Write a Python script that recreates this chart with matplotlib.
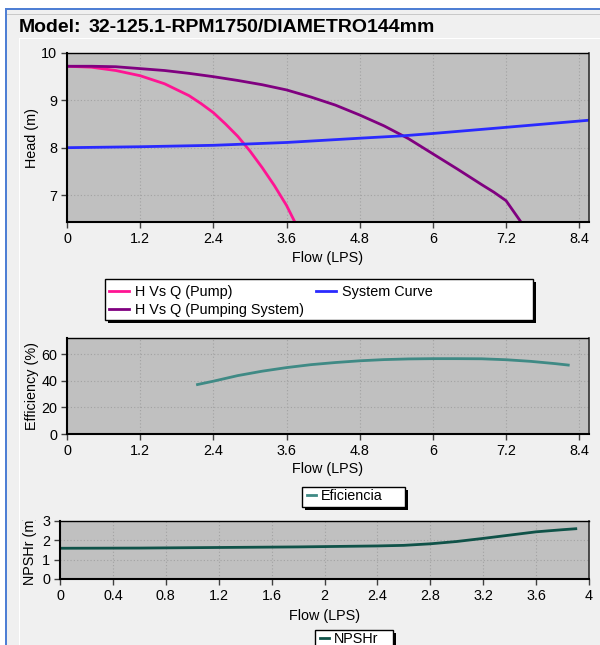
import matplotlib
matplotlib.use("Agg")
import matplotlib.pyplot as plt
from matplotlib.patches import Rectangle
from matplotlib.transforms import Bbox

# ---------------- data ----------------
title_label = "Model:"
title_model = "32-125.1-RPM1750/DIAMETRO144mm"

flow_pump = [0, 0.4, 0.8, 1.2, 1.6, 2.0, 2.2, 2.4, 2.6, 2.8, 3.0, 3.2, 3.4, 3.6, 3.74]
head_pump = [9.72, 9.70, 9.63, 9.52, 9.35, 9.10, 8.93, 8.74, 8.50, 8.24, 7.93, 7.58,
             7.20, 6.78, 6.42]

flow_system = [0, 0.4, 0.8, 1.2, 1.6, 2.0, 2.4, 2.8, 3.2, 3.6, 4.0, 4.4, 4.8, 5.2,
               5.6, 6.0, 6.4, 6.8, 7.0, 7.2, 7.45]
head_system = [9.72, 9.72, 9.71, 9.67, 9.63, 9.57, 9.50, 9.42, 9.33, 9.22, 9.07, 8.90,
               8.69, 8.46, 8.19, 7.87, 7.55, 7.22, 7.06, 6.88, 6.42]

flow_curve = [0, 1.2, 2.4, 3.6, 4.8, 5.5, 6.0, 7.2, 8.56]
head_curve = [8.0, 8.02, 8.05, 8.11, 8.2, 8.25, 8.30, 8.43, 8.58]

flow_eff = [2.14, 2.4, 2.8, 3.2, 3.6, 4.0, 4.4, 4.8, 5.2, 5.6, 6.0, 6.4, 6.8, 7.2,
            7.6, 8.0, 8.22]
eff = [37.1, 39.6, 43.8, 47.1, 49.8, 52.0, 53.6, 54.9, 55.8, 56.3, 56.5, 56.5, 56.4,
       55.7, 54.5, 52.8, 51.7]

flow_npsh = [0, 0.6, 1.2, 1.8, 2.4, 2.6, 2.8, 3.0, 3.2, 3.4, 3.6, 3.8, 3.9]
npsh = [1.59, 1.6, 1.63, 1.66, 1.71, 1.74, 1.82, 1.94, 2.1, 2.27, 2.44, 2.55, 2.6]

head_xticks = [0, 1.2, 2.4, 3.6, 4.8, 6, 7.2, 8.4]
head_yticks = [7, 8, 9, 10]
eff_yticks = [0, 20, 40, 60]
npsh_xticks = [0, 0.4, 0.8, 1.2, 1.6, 2, 2.4, 2.8, 3.2, 3.6, 4]
npsh_yticks = [0, 1, 2, 3]

lbl_pump = "H Vs Q (Pump)"
lbl_system = "H Vs Q (Pumping System)"
lbl_curve = "System Curve"
lbl_eff = "Eficiencia"
lbl_npsh = "NPSHr"

# ---------------- style ----------------
W, H = 600, 645
FONT = "Liberation Sans"
FS = 10.4
plt.rcParams["font.family"] = [FONT, "DejaVu Sans"]
plt.rcParams["font.size"] = FS

C_PUMP = "#ff1493"
C_SYS = "#800080"
C_CURVE = "#2a2aff"
C_EFF = "#3f8a85"
C_NPSH = "#0f5248"
BG = "#c0c0c0"
LW = 2.0

fig = plt.figure(figsize=(W / 100, H / 100), dpi=100, facecolor="#f0f0f0")


def fx(px):
    return px / W


def fy(py):
    return 1 - py / H


def rect_px(x0, y0, x1, y1, **kw):
    r = Rectangle((fx(x0), fy(y1)), fx(x1) - fx(x0), fy(y0) - fy(y1),
                  transform=fig.transFigure, **kw)
    fig.add_artist(r)
    return r


# window decoration
rect_px(0, 0, W, 8, facecolor="white", edgecolor="none", zorder=0)
rect_px(0, 0, 5, H, facecolor="white", edgecolor="none", zorder=0)
rect_px(5, 8, W, 10, facecolor="#4f7fd4", edgecolor="none", zorder=1)
rect_px(5, 8, 7, H, facecolor="#4f7fd4", edgecolor="none", zorder=1)
rect_px(7, 14, W, 15, facecolor="#c9c9c9", edgecolor="none", zorder=1)
rect_px(19, 38, W, 39, facecolor="white", edgecolor="none", zorder=1)
rect_px(19, 38, 20, H, facecolor="white", edgecolor="none", zorder=1)

fig.text(fx(19), fy(27), title_label, fontsize=14, fontweight="bold", va="center", ha="left")
fig.text(fx(89), fy(27), title_model, fontsize=14, fontweight="bold", va="center", ha="left")


def make_axes(px_left, px_top, px_right, px_bottom):
    ax = fig.add_axes([fx(px_left), fy(px_bottom), fx(px_right) - fx(px_left),
                       fy(px_top) - fy(px_bottom)])
    ax.set_facecolor(BG)
    ax.grid(True, color="#a2a2a2", linestyle=(0, (1, 2)), linewidth=0.8)
    ax.set_axisbelow(True)
    for s in ("left", "bottom"):
        ax.spines[s].set_color("black")
        ax.spines[s].set_linewidth(1.5)
    ax.spines["right"].set_color("#303030")
    ax.spines["right"].set_linewidth(1.2)
    ax.spines["top"].set_color("black")
    ax.spines["top"].set_linestyle((0, (1, 1)))
    ax.spines["top"].set_linewidth(1.0)
    ax.tick_params(direction="out", length=4, width=1, color="#404040",
                   labelsize=FS, pad=3)
    return ax


def legend_box(x0, y0, x1, y1):
    rect_px(x0 + 3, y0 + 3, x1 + 3, y1 + 3, facecolor="black", edgecolor="none", zorder=5)
    rect_px(x0, y0, x1, y1, facecolor="white", edgecolor="black", linewidth=1.0, zorder=6)


# ---------------- Head chart ----------------
ax1 = make_axes(67, 53, 589, 222)
l_pump, = ax1.plot(flow_pump, head_pump, color=C_PUMP, lw=LW)
l_sys, = ax1.plot(flow_system, head_system, color=C_SYS, lw=LW)
l_curve, = ax1.plot(flow_curve, head_curve, color=C_CURVE, lw=LW)
ax1.set_xlim(0, 8.56)
ax1.set_ylim(6.43, 10)
ax1.set_xticks(head_xticks)
ax1.set_xticklabels([f"{t:g}" for t in head_xticks])
ax1.set_yticks(head_yticks)
ax1.set_xlabel("Flow (LPS)", fontsize=FS)
ax1.set_ylabel("Head (m)", fontsize=FS)
ax1.xaxis.set_label_coords(0.5, -(251 - 222) / 169)
ax1.xaxis.label.set_va("top")
ax1.yaxis.set_label_coords((32 - 67) / 522, 0.5)
ax1.yaxis.label.set_va("center")

legend_box(105, 279, 533, 320)
leg1 = fig.legend([l_pump, l_sys, l_curve], [lbl_pump, lbl_system, lbl_curve],
                  ncol=2, loc="upper left", bbox_to_anchor=(fx(106), fy(282)),
                  frameon=False, fontsize=FS, handlelength=1.4, handletextpad=0.4,
                  columnspacing=0.85, labelspacing=0.3, borderpad=0.2,
                  borderaxespad=0)
leg1.set_zorder(7)

# ---------------- Efficiency chart ----------------
ax2 = make_axes(67, 338, 589, 434)
l_eff, = ax2.plot(flow_eff, eff, color=C_EFF, lw=LW)
ax2.set_xlim(0, 8.56)
ax2.set_ylim(0, 72)
ax2.set_xticks(head_xticks)
ax2.set_xticklabels([f"{t:g}" for t in head_xticks])
ax2.set_yticks(eff_yticks)
ax2.set_xlabel("Flow (LPS)", fontsize=FS)
ax2.set_ylabel("Efficiency (%)", fontsize=FS)
ax2.xaxis.set_label_coords(0.5, -(462 - 434) / 96)
ax2.xaxis.label.set_va("top")
ax2.yaxis.set_label_coords((32 - 67) / 522, 0.5)
ax2.yaxis.label.set_va("center")

legend_box(302, 487, 405, 507)
leg2 = fig.legend([l_eff], [lbl_eff], loc="upper left",
                  bbox_to_anchor=(fx(305), fy(487)), frameon=False, fontsize=FS,
                  handlelength=0.6, handletextpad=0.35, borderpad=0.15, borderaxespad=0)
leg2.set_zorder(7)

# ---------------- NPSH chart ----------------
ax3 = make_axes(60, 521, 589, 579)
l_npsh, = ax3.plot(flow_npsh, npsh, color=C_NPSH, lw=LW)
ax3.set_xlim(0, 4)
ax3.set_ylim(0, 3)
ax3.set_xticks(npsh_xticks)
ax3.set_xticklabels([f"{t:g}" for t in npsh_xticks])
ax3.set_yticks(npsh_yticks)
ax3.set_xlabel("Flow (LPS)", fontsize=FS)
ax3.xaxis.set_label_coords(0.5, -(609 - 579) / 58)
ax3.xaxis.label.set_va("top")
yl = fig.text(fx(30), fy(550), "NPSHr (m)", rotation=90, va="center", ha="center",
              fontsize=FS)
yl.set_clip_box(Bbox([[0, 0], [W, H - 520]]))
yl.set_clip_on(True)

legend_box(315, 630, 393, 660)
leg3 = fig.legend([l_npsh], [lbl_npsh], loc="upper left",
                  bbox_to_anchor=(fx(318), fy(630)), frameon=False, fontsize=FS,
                  handlelength=0.6, handletextpad=0.35, borderpad=0.15, borderaxespad=0)
leg3.set_zorder(7)

fig.savefig("out.png", dpi=100, facecolor=fig.get_facecolor())
